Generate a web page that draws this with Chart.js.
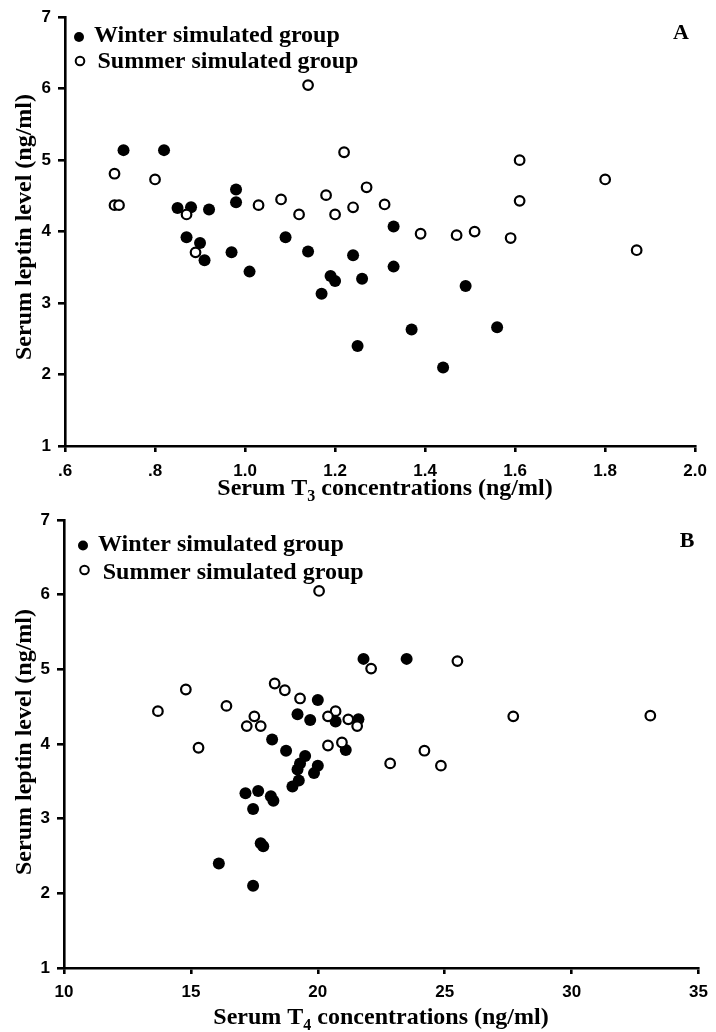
<!DOCTYPE html>
<html>
<head>
<meta charset="utf-8">
<script src="https://cdn.jsdelivr.net/npm/chart.js@4.4.1/dist/chart.umd.min.js"></script>
<style>
  html, body { margin: 0; padding: 0; background: #fff; }
  #wrap { position: relative; width: 716px; height: 1032px; }
  .panel { position: absolute; left: 0; width: 716px; }
</style>
</head>
<body>
<div id="wrap">
  <div class="panel" style="top:0;height:510px"><canvas id="chartA" width="716" height="510"></canvas></div>
  <div class="panel" style="top:500px;height:532px"><canvas id="chartB" width="716" height="532"></canvas></div>
</div>
<script>
// Panel A: leptin vs T3
const t3Winter = [0.73, 0.82, 0.85, 0.88, 0.92, 0.98, 0.98, 0.87, 0.90, 0.91, 0.97, 1.01, 1.09, 1.14, 1.17, 1.19, 1.20, 1.24, 1.26, 1.25, 1.33, 1.33, 1.37, 1.44, 1.49, 1.56];
const leptinWinterT3 = [5.14, 5.14, 4.33, 4.34, 4.31, 4.59, 4.41, 3.92, 3.84, 3.60, 3.71, 3.44, 3.92, 3.72, 3.13, 3.38, 3.31, 3.67, 3.34, 2.40, 4.07, 3.51, 2.63, 2.10, 3.24, 2.66];
const t3Summer = [0.71, 0.71, 0.72, 0.80, 0.87, 0.89, 1.03, 1.08, 1.12, 1.14, 1.18, 1.20, 1.22, 1.24, 1.27, 1.31, 1.39, 1.47, 1.51, 1.59, 1.61, 1.61, 1.80, 1.87];
const leptinSummerT3 = [4.81, 4.37, 4.37, 4.73, 4.24, 3.71, 4.37, 4.45, 4.24, 6.05, 4.51, 4.24, 5.11, 4.34, 4.62, 4.38, 3.97, 3.95, 4.00, 3.91, 5.00, 4.43, 4.73, 3.74];

// Panel B: leptin vs T4
const t4Winter = [21.8, 23.5, 20.0, 19.2, 19.7, 20.7, 21.6, 18.2, 18.75, 21.1, 19.5, 19.3, 19.2, 20.0, 19.85, 19.25, 19.0, 17.15, 17.65, 18.15, 18.25, 17.45, 17.75, 17.85, 16.1, 17.45];
const leptinWinterT4 = [5.14, 5.14, 4.59, 4.40, 4.32, 4.30, 4.33, 4.06, 3.91, 3.92, 3.84, 3.74, 3.66, 3.71, 3.61, 3.51, 3.43, 3.34, 3.37, 3.30, 3.24, 3.13, 2.67, 2.63, 2.40, 2.10];
const t4Summer = [20.05, 25.5, 22.1, 14.8, 13.7, 16.4, 17.5, 17.2, 17.75, 15.3, 18.3, 18.7, 19.3, 20.7, 20.4, 21.2, 21.55, 20.4, 20.95, 27.7, 33.1, 24.2, 22.85, 24.85];
const leptinSummerT4 = [6.05, 5.11, 5.01, 4.73, 4.44, 4.51, 4.37, 4.24, 4.24, 3.95, 4.81, 4.72, 4.61, 4.44, 4.37, 4.33, 4.24, 3.98, 4.02, 4.37, 4.38, 3.91, 3.74, 3.71];

// Ticks
const yTicks = [1, 2, 3, 4, 5, 6, 7];
const xTicksA = [0.6, 0.8, 1.0, 1.2, 1.4, 1.6, 1.8, 2.0];
const xTickLabelsA = ['.6', '.8', '1.0', '1.2', '1.4', '1.6', '1.8', '2.0'];
const xTicksB = [10, 15, 20, 25, 30, 35];
const xTickLabelsB = ['10', '15', '20', '25', '30', '35'];

const seriesNames = ['Winter simulated group', 'Summer simulated group'];
const yTitle = 'Serum leptin level (ng/ml)';

const SERIF = '"Liberation Serif", "Times New Roman", serif';
const SANS = '"Liberation Sans", Arial, sans-serif';

function toPoints(xs, ys) {
    return xs.map((x, i) => ({ x: x, y: ys[i] }));
}

// Legend, panel letter and axis titles
const annotate = {
    id: 'annotate',
    afterDraw(chart, args, o) {
        const ctx = chart.ctx;
        ctx.save();
        ctx.fillStyle = '#000';
        ctx.strokeStyle = '#000';
        ctx.font = 'bold 24px ' + SERIF;
        ctx.textBaseline = 'alphabetic';
        ctx.textAlign = 'left';

        // legend
        ctx.beginPath();
        ctx.arc(o.lw[0], o.lw[1], 5, 0, Math.PI * 2);
        ctx.fill();
        ctx.fillText(seriesNames[0], o.lw[2], o.lw[3]);
        ctx.beginPath();
        ctx.lineWidth = 2;
        ctx.arc(o.ls[0], o.ls[1], 4.3, 0, Math.PI * 2);
        ctx.stroke();
        ctx.fillText(seriesNames[1], o.ls[2], o.ls[3]);

        // panel letter
        ctx.textAlign = 'center';
        ctx.font = 'bold 22px ' + SERIF;
        ctx.fillText(o.letter, o.lp[0], o.lp[1]);

        // y title
        ctx.save();
        ctx.font = 'bold 24px ' + SERIF;
        ctx.translate(o.yt[0], o.yt[1]);
        ctx.rotate(-Math.PI / 2);
        ctx.fillText(yTitle, 0, 0);
        ctx.restore();

        // x title with subscript
        const big = 'bold 24px ' + SERIF;
        const small = 'bold 16px ' + SERIF;
        const p1 = 'Serum T', p3 = ' concentrations (ng/ml)';
        ctx.font = big;
        const w1 = ctx.measureText(p1).width, w3 = ctx.measureText(p3).width;
        ctx.font = small;
        const w2 = ctx.measureText(o.sub).width;
        let x = o.xt[0] - (w1 + w2 + w3) / 2;
        const y = o.xt[1];
        ctx.textAlign = 'left';
        ctx.font = big;
        ctx.fillText(p1, x, y);
        ctx.font = small;
        ctx.fillText(o.sub, x + w1, y + 6);
        ctx.font = big;
        ctx.fillText(p3, x + w1 + w2, y);
        ctx.restore();
    }
};

function makeChart(id, cfg) {
    return new Chart(document.getElementById(id), {
        type: 'scatter',
        data: {
            datasets: [{
                label: seriesNames[1],
                data: toPoints(cfg.xs2, cfg.ys2),
                pointRadius: 4.8,
                pointBackgroundColor: '#fff',
                pointBorderColor: '#000',
                pointBorderWidth: 2.2,
                order: 0
            }, {
                label: seriesNames[0],
                data: toPoints(cfg.xs1, cfg.ys1),
                pointRadius: 6,
                pointBackgroundColor: '#000',
                pointBorderColor: '#000',
                pointBorderWidth: 0,
                order: 1
            }]
        },
        options: {
            responsive: false,
            animation: false,
            devicePixelRatio: 1,
            layout: { padding: cfg.padding },
            plugins: {
                legend: { display: false },
                tooltip: { enabled: false },
                annotate: cfg.annot
            },
            scales: {
                x: {
                    type: 'linear',
                    min: cfg.xTicks[0],
                    max: cfg.xTicks[cfg.xTicks.length - 1],
                    afterBuildTicks: (s) => { s.ticks = cfg.xTicks.map(v => ({ value: v })); },
                    afterFit: (s) => { s.height = cfg.xHeight; },
                    border: { display: true, color: '#000', width: 2.6 },
                    grid: { drawOnChartArea: false, drawTicks: true, tickLength: 6, color: '#000', lineWidth: 2.6 },
                    ticks: {
                        color: '#000',
                        padding: cfg.xPad,
                        maxRotation: 0,
                        autoSkip: false,
                        font: { family: SANS, size: 17, weight: 'bold' },
                        callback: (v, i) => cfg.xLabels[i]
                    }
                },
                y: {
                    type: 'linear',
                    min: 1,
                    max: 7,
                    afterBuildTicks: (s) => { s.ticks = yTicks.map(v => ({ value: v })); },
                    afterFit: (s) => { s.width = cfg.yWidth; },
                    border: { display: true, color: '#000', width: 2.6 },
                    grid: { drawOnChartArea: false, drawTicks: true, tickLength: 7, color: '#000', lineWidth: 2.6 },
                    ticks: {
                        color: '#000',
                        padding: 7,
                        font: { family: SANS, size: 17, weight: 'bold' },
                        callback: (v) => String(v)
                    }
                }
            }
        },
        plugins: [annotate]
    });
}

makeChart('chartA', {
    xs1: t3Winter, ys1: leptinWinterT3, xs2: t3Summer, ys2: leptinSummerT3,
    xTicks: xTicksA, xLabels: xTickLabelsA,
    padding: { top: 12, right: 14, left: 0, bottom: 0 },
    xHeight: 64, yWidth: 65, xPad: 9,
    annot: {
        letter: 'A', sub: '3',
        lw: [79, 37, 94, 42], ls: [80, 61, 97.5, 68],
        lp: [681, 39], yt: [31, 227], xt: [385, 495]
    }
});

makeChart('chartB', {
    xs1: t4Winter, ys1: leptinWinterT4, xs2: t4Summer, ys2: leptinSummerT4,
    xTicks: xTicksB, xLabels: xTickLabelsB,
    padding: { top: 20, right: 10.5, left: 0, bottom: 0 },
    xHeight: 64, yWidth: 64, xPad: 8,
    annot: {
        letter: 'B', sub: '4',
        lw: [83, 45.5, 98, 51], ls: [84.5, 70, 102.7, 78.5],
        lp: [687, 47], yt: [31, 242], xt: [381, 524]
    }
});
</script>
</body>
</html>
